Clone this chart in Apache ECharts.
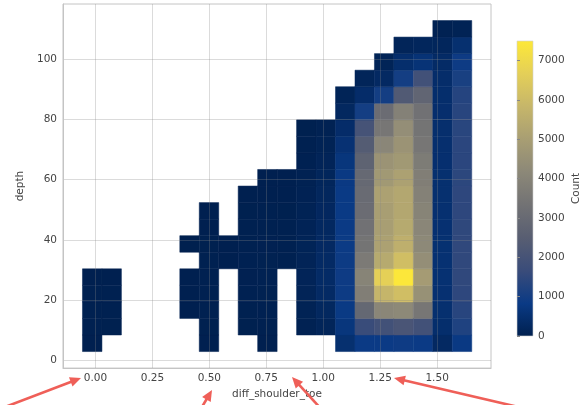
<!DOCTYPE html>
<html><head><meta charset="utf-8">
<script src="https://cdn.jsdelivr.net/npm/echarts@6/dist/echarts.min.js"></script>
<style>html,body{margin:0;padding:0;background:#fff}#c{width:583px;height:405px}</style>
</head><body><div id="c"></div>
<script>
const _ = null;
// bin edges of the 2D histogram
const xEdges = [-0.057, 0.0285, 0.1139, 0.1994, 0.2848, 0.3703, 0.4557, 0.5412, 0.6266, 0.7121, 0.7975, 0.883, 0.9684, 1.0539, 1.1393, 1.2248, 1.3102, 1.3957, 1.4811, 1.5666, 1.652];
const yEdges = [2.8, 8.31, 13.82, 19.33, 24.84, 30.35, 35.86, 41.37, 46.88, 52.39, 57.9, 63.41, 68.92, 74.43, 79.94, 85.45, 90.96, 96.47, 101.98, 107.49, 113.0];
// counts per x bin (column), listed from the lowest depth bin upwards; null = empty
const counts = [
  [15,25,30,25,10,_,_,_,_,_,_,_,_,_,_,_,_,_,_,_],
  [_,20,30,25,15,_,_,_,_,_,_,_,_,_,_,_,_,_,_,_],
  [_,_,_,_,_,_,_,_,_,_,_,_,_,_,_,_,_,_,_,_],
  [_,_,_,_,_,_,_,_,_,_,_,_,_,_,_,_,_,_,_,_],
  [_,_,_,_,_,_,_,_,_,_,_,_,_,_,_,_,_,_,_,_],
  [_,_,10,15,10,_,5,_,_,_,_,_,_,_,_,_,_,_,_,_],
  [10,20,30,35,30,25,20,15,10,_,_,_,_,_,_,_,_,_,_,_],
  [_,_,_,_,_,10,10,_,_,_,_,_,_,_,_,_,_,_,_,_],
  [_,20,30,40,45,40,35,30,20,10,_,_,_,_,_,_,_,_,_,_],
  [15,30,40,50,55,50,45,35,25,15,10,_,_,_,_,_,_,_,_,_],
  [_,_,_,_,_,30,30,25,20,15,10,_,_,_,_,_,_,_,_,_],
  [_,60,100,130,140,130,120,110,100,80,60,40,30,20,_,_,_,_,_,_],
  [_,150,250,320,350,330,300,270,240,210,180,140,100,60,_,_,_,_,_,_],
  [500,700,820,880,900,880,860,850,840,830,800,700,550,400,250,120,_,_,_,_],
  [850,1650,2900,3800,4000,3650,3400,3300,3100,3050,2950,2700,2400,2000,1000,400,150,_,_,_],
  [850,1900,4100,5800,6700,5400,5100,5000,5000,5100,4800,4600,4100,3500,3100,1000,300,120,_,_],
  [900,2100,4200,6100,7450,6100,5600,5400,5300,5300,5100,4800,4600,4400,3900,2300,1000,450,150,_],
  [850,1900,3500,4500,4900,4400,4200,4100,4000,3900,3800,3700,3500,3400,3300,2800,1900,600,200,_],
  [300,450,500,520,540,540,530,520,510,500,500,490,480,470,460,450,420,350,200,60],
  [800,1200,1350,1450,1500,1500,1500,1480,1450,1450,1420,1400,1400,1380,1350,1300,1100,900,500,100]
];
const xTicks = [0, 0.25, 0.5, 0.75, 1.0, 1.25, 1.5];
const yTicks = [0, 20, 40, 60, 80, 100];
const cbTicks = [0, 1000, 2000, 3000, 4000, 5000, 6000, 7000];
const cbMax = 7500;
const cividis = ['#00204f','#0a3a85','#3a4c7a','#585e72','#727274','#8c8878','#a89e73','#c6b66a','#e4cf58','#fde838'];

const cells = [];
counts.forEach((col, i) => col.forEach((v, j) => {
  if (v !== null) cells.push([xEdges[i], xEdges[i+1], yEdges[j], yEdges[j+1], v]);
}));

const FONT = 'DejaVu Sans';
const TXT = '#444';
const gridLine = {show: true, lineStyle: {color: 'rgba(137,137,137,0.3)', width: 1}};

const arrows = [[5,407,81,378],[199,412,212,390],[323,411,292,377],[527,409,394,378]];
const graphics = [];
arrows.forEach(a => {
  const [tx, ty, hx, hy] = a;
  const dx = hx - tx, dy = hy - ty, L = Math.hypot(dx, dy);
  const ux = dx / L, uy = dy / L, px = -uy, py = ux;
  const hl = 11, hw = 5;
  const bx = hx - ux * hl, by = hy - uy * hl;
  graphics.push({type: 'line', shape: {x1: tx, y1: ty, x2: bx + ux * 2, y2: by + uy * 2}, style: {stroke: '#ef5f58', lineWidth: 2.6}, z: 100});
  graphics.push({type: 'polygon', shape: {points: [[hx, hy], [bx + px * hw, by + py * hw], [bx - px * hw, by - py * hw]]}, style: {fill: '#ef5f58'}, z: 100});
});

const chart = echarts.init(document.getElementById('c'), null, {renderer: 'canvas'});
chart.setOption({
  animation: false,
  backgroundColor: '#fff',
  textStyle: {fontFamily: FONT},
  grid: [
    {left: 63, top: 4, width: 428, height: 368, show: true, borderColor: '#c4c4c4', borderWidth: 1, backgroundColor: 'transparent'},
    {left: 517, top: 41, width: 16, height: 295, show: false}
  ],
  visualMap: {type: 'continuous', show: false, min: 0, max: cbMax, dimension: 4, seriesIndex: 0, inRange: {color: cividis}},
  xAxis: [
    {type: 'value', gridIndex: 0, min: -0.1425, max: 1.7365, z: 5,
     axisLine: {show: true, onZero: false, lineStyle: {color: '#c4c4c4'}},
     axisTick: {show: false, customValues: xTicks},
     axisLabel: {customValues: xTicks, formatter: v => v.toFixed(2), fontSize: 10.5, color: TXT, margin: 5, fontFamily: FONT},
     splitLine: gridLine,
     name: 'diff_shoulder_toe', nameLocation: 'middle', nameGap: 18,
     nameTextStyle: {fontSize: 10.5, color: TXT, fontFamily: FONT}},
    {type: 'value', gridIndex: 1, min: 0, max: 1, show: false}
  ],
  yAxis: [
    {type: 'value', gridIndex: 0, min: -2.71, max: 118.5, z: 5,
     axisLine: {show: true, onZero: false, lineStyle: {color: '#c4c4c4'}},
     axisTick: {show: false, customValues: yTicks},
     axisLabel: {customValues: yTicks, fontSize: 10.5, color: TXT, margin: 6, fontFamily: FONT},
     splitLine: gridLine,
     name: 'depth', nameLocation: 'middle', nameGap: 28,
     nameTextStyle: {fontSize: 10.5, color: TXT, fontFamily: FONT}},
    {type: 'value', gridIndex: 1, min: 0, max: cbMax, position: 'right', z: 5,
     axisLine: {show: false},
     axisTick: {show: true, length: 3, customValues: cbTicks, lineStyle: {color: '#888'}},
     axisLabel: {customValues: cbTicks, formatter: v => String(v), fontSize: 10.5, color: TXT, margin: 5, fontFamily: FONT},
     splitLine: {show: false},
     name: 'Count', nameLocation: 'middle', nameRotate: 90, nameGap: 38,
     nameTextStyle: {fontSize: 10.5, color: TXT, fontFamily: FONT}}
  ],
  series: [
    {type: 'custom', xAxisIndex: 0, yAxisIndex: 0, z: 2, data: cells,
     encode: {x: [0, 1], y: [2, 3]},
     renderItem: (params, api) => {
       const p0 = api.coord([api.value(0), api.value(3)]);
       const p1 = api.coord([api.value(1), api.value(2)]);
       return {type: 'rect', shape: {x: p0[0], y: p0[1], width: p1[0] - p0[0], height: p1[1] - p0[1]},
               style: {fill: api.visual('color'), stroke: api.visual('color'), lineWidth: 0.5}};
     }},
    {type: 'custom', xAxisIndex: 1, yAxisIndex: 1, z: 2, data: [[0, 1, 0, cbMax]],
     renderItem: (params, api) => {
       const p0 = api.coord([api.value(0), api.value(3)]);
       const p1 = api.coord([api.value(1), api.value(2)]);
       return {type: 'rect', shape: {x: p0[0], y: p0[1], width: p1[0] - p0[0], height: p1[1] - p0[1]},
               style: {fill: {type: 'linear', x: 0, y: 1, x2: 0, y2: 0,
                 colorStops: cividis.map((c, k) => ({offset: k / (cividis.length - 1), color: c}))},
                 stroke: '#d0d0d0', lineWidth: 0.6}};
     }}
  ],
  graphic: graphics
});
</script></body></html>
